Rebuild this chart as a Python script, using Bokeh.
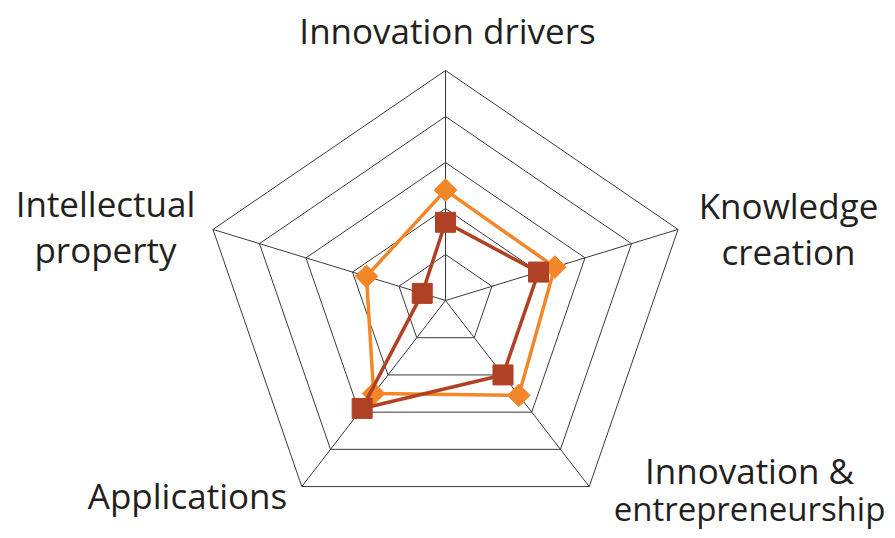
import numpy as np
from bokeh.plotting import figure
from bokeh.models import Range1d, ColumnDataSource
from bokeh.core.properties import value
from bokeh.embed import file_html
from bokeh.resources import INLINE

# ---- data ----
categories = ["Innovation drivers", "Knowledge creation",
              "Innovation & entrepreneurship", "Applications",
              "Intellectual property"]
series_orange = [2.4, 2.35, 2.55, 2.5, 1.7]
series_dark = [1.7, 2.0, 2.0, 2.9, 0.5]
ring_levels = [1, 2, 3, 4, 5]

# ---- layout ----
W, H = 887, 530
CX, CY = 445, 300          # centre in picture pixels
KY = 46.0                  # px per unit vertically
KX = 48.9                  # px per unit horizontally
ORANGE = "#F4862A"
DARK = "#B04125"
GRID = "#3a3a3a"
TEXT = "#231F20"
FONT = "Open Sans"
TEXT_DY = 13               # empirical baseline correction (px)

p = figure(width=W, height=H, output_backend="svg", toolbar_location=None,
           x_range=Range1d(-CX / KX, (W - CX) / KX),
           y_range=Range1d(-(H - CY) / KY, CY / KY),
           min_border=0, outline_line_color=None)
p.axis.visible = False
p.grid.visible = False

n = len(categories)
angles = np.deg2rad(90 - 72 * np.arange(n))

def polar(vals):
    v = np.asarray(vals, dtype=float)
    return list(v * np.cos(angles)), list(v * np.sin(angles))

# rings
for lv in ring_levels:
    xs, ys = polar([lv] * n)
    p.line(xs + [xs[0]], ys + [ys[0]], line_color=GRID, line_width=1)
# spokes
ox, oy = polar([ring_levels[-1]] * n)
p.multi_line([[0, x] for x in ox], [[0, y] for y in oy], line_color=GRID, line_width=1)

# series
xs, ys = polar(series_orange)
p.line(xs + [xs[0]], ys + [ys[0]], line_color=ORANGE, line_width=3.5)
p.scatter(xs, ys, marker="square", angle=np.pi / 4, size=16,
          fill_color=ORANGE, line_color=ORANGE)

xs, ys = polar(series_dark)
p.line(xs + [xs[0]], ys + [ys[0]], line_color=DARK, line_width=3.5)
p.scatter(xs, ys, marker="square", size=20, fill_color=DARK, line_color=DARK)

# labels (picture-pixel layout -> data)
def sx(px):
    return (px - CX) / KX

def sy(py):
    return (CY - (py - TEXT_DY)) / KY

label_lines = [
    ("Innovation drivers", 447, 43, "35px"),
    ("Knowledge", 788, 218, "35px"),
    ("creation", 788, 264, "35px"),
    ("Innovation &", 749, 483, "35px"),
    ("entrepreneurship", 749, 521, "33px"),
    ("Applications", 187, 508, "35px"),
    ("Intellectual", 105, 216, "35px"),
    ("property", 105, 262, "35px"),
]
for txt, px, py, fs in label_lines:
    p.text(x=[sx(px)], y=[sy(py)], text=[txt], text_font=value(FONT),
           text_font_size=fs, text_align="center", text_baseline="alphabetic",
           text_color=TEXT)

open("out.html", "w").write(file_html(p, INLINE))
